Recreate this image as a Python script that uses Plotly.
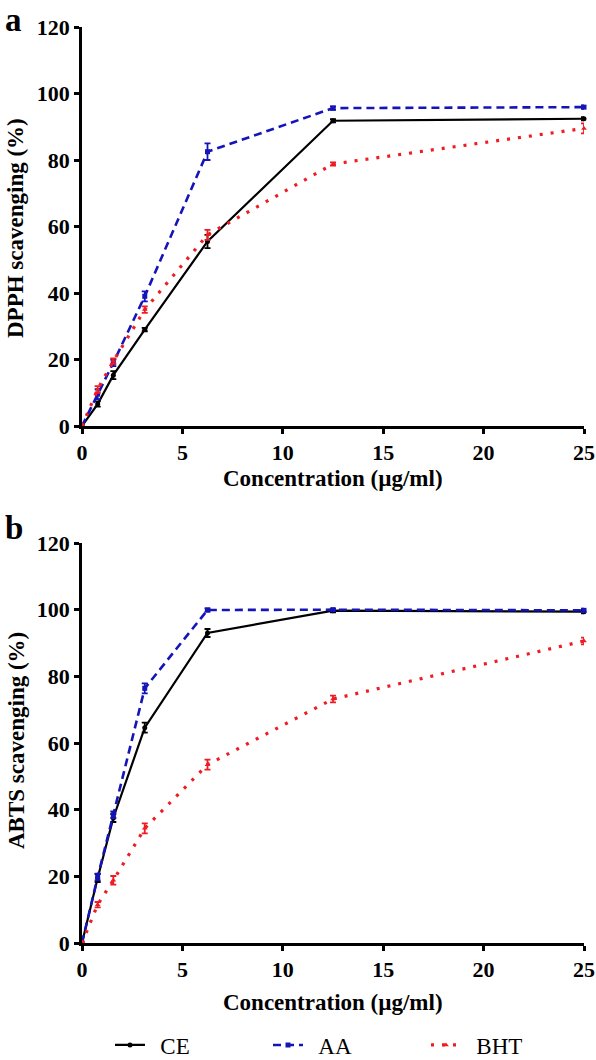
import plotly.graph_objects as go

conc = [0, 0.78, 1.56, 3.125, 6.25, 12.5, 25]

# DPPH scavenging (%)
dpph_ce = [0, 6.6, 15.3, 29.0, 55.5, 91.8, 92.4]
dpph_ce_err = [0, 0.8, 1.2, 0.5, 2.0, 0.5, 0.5]
dpph_aa = [0, 9.6, 19.0, 39.0, 82.5, 95.6, 95.9]
dpph_aa_err = [0, 1.5, 1.0, 1.5, 2.5, 0.5, 0.5]
dpph_bht = [0, 11.0, 19.5, 35.0, 57.5, 78.8, 89.5]
dpph_bht_err = [0, 1.0, 0.8, 1.0, 1.5, 0.5, 1.5]

# ABTS scavenging (%)
abts_ce = [0, 19.5, 37.5, 64.6, 93.0, 99.7, 99.4]
abts_ce_err = [0, 1.2, 1.2, 1.5, 1.2, 0.5, 0.5]
abts_aa = [0, 19.8, 38.5, 76.4, 99.9, 100.0, 99.8]
abts_aa_err = [0, 1.0, 1.0, 1.5, 0.5, 0.3, 0.5]
abts_bht = [0, 11.5, 18.8, 34.4, 53.5, 73.2, 90.6]
abts_bht_err = [0, 0.8, 1.3, 1.5, 1.5, 1.0, 1.0]

series_names = ["CE", "AA", "BHT"]
x_ticks = [0, 5, 10, 15, 20, 25]
y_ticks = [0, 20, 40, 60, 80, 100, 120]

FONT = "Liberation Serif"
BLACK = "#000000"
BLUE = "#1414b8"
RED = "#ee1c24"

styles = {
    "CE": dict(line=dict(color=BLACK, width=2.2), marker=dict(symbol="circle", size=5, color=BLACK)),
    "AA": dict(line=dict(color=BLUE, width=2.6, dash="8px,5px"), marker=dict(symbol="square", size=5, color=BLUE)),
    "BHT": dict(line=dict(color=RED, width=3.2, dash="3px,8px"), marker=dict(symbol="triangle-up", size=5, color=RED)),
}

fig = go.Figure()

panels = [
    ("x", "y", [dpph_ce, dpph_aa, dpph_bht], [dpph_ce_err, dpph_aa_err, dpph_bht_err], True),
    ("x2", "y2", [abts_ce, abts_aa, abts_bht], [abts_ce_err, abts_aa_err, abts_bht_err], False),
]
for xa, ya, vals, errs, show in panels:
    for name, v, e in zip(series_names, vals, errs):
        st = styles[name]
        fig.add_trace(go.Scatter(
            x=conc, y=v, name="\u00a0\u2009" + name, mode="lines+markers",
            xaxis=xa, yaxis=ya, showlegend=show, cliponaxis=False,
            line=st["line"], marker=st["marker"],
            error_y=dict(type="data", array=e, visible=True, color=st["line"]["color"],
                         thickness=1.8, width=3),
        ))

xdom = [82 / 596, 584 / 596]
top_dom = [1 - 426 / 1060, 1 - 27 / 1060]
bot_dom = [1 - 943 / 1060, 1 - 543 / 1060]

axis_common = dict(
    showline=True, linecolor=BLACK, linewidth=2.5, showgrid=False, zeroline=False,
    ticks="outside", ticklen=5, tickwidth=2.5, tickcolor=BLACK, automargin=False,
    tickfont=dict(family=FONT, size=22, color=BLACK, weight="bold"),
)

fig.update_layout(
    width=596, height=1060,
    margin=dict(l=0, r=0, t=0, b=0, autoexpand=False),
    paper_bgcolor="white", plot_bgcolor="white",
    xaxis=dict(domain=xdom, range=[0, 25], tickvals=x_ticks, anchor="y", **axis_common),
    yaxis=dict(domain=top_dom, range=[0, 120], tickvals=y_ticks, anchor="x", **axis_common),
    xaxis2=dict(domain=xdom, range=[0, 25], tickvals=x_ticks, anchor="y2", **axis_common),
    yaxis2=dict(domain=bot_dom, range=[0, 120], tickvals=y_ticks, anchor="x2", **axis_common),
    legend=dict(orientation="h", x=110 / 596, xanchor="left", y=1 - 1045 / 1060, yanchor="middle",
                font=dict(family=FONT, size=23, color=BLACK), entrywidth=113, entrywidthmode="pixels",
                bgcolor="rgba(0,0,0,0)"),
    showlegend=True,
)

ann = []
ann.append(dict(text="a", x=3 / 596, y=1, xref="paper", yref="paper", xanchor="left", yanchor="top",
                showarrow=False, font=dict(family=FONT, size=33, color=BLACK, weight="bold")))
ann.append(dict(text="b", x=3 / 596, y=1 - 508 / 1060, xref="paper", yref="paper", xanchor="left", yanchor="top",
                showarrow=False, font=dict(family=FONT, size=33, color=BLACK, weight="bold")))
title_font = dict(family=FONT, size=23, color=BLACK, weight="bold")
ann.append(dict(text="Concentration (µg/ml)", x=333 / 596, y=1 - 478 / 1060, xref="paper", yref="paper",
                xanchor="center", yanchor="middle", showarrow=False, font=title_font))
ann.append(dict(text="Concentration (µg/ml)", x=333 / 596, y=1 - 1002 / 1060, xref="paper", yref="paper",
                xanchor="center", yanchor="middle", showarrow=False, font=title_font))
ann.append(dict(text="DPPH scavenging (%)", x=16 / 596, y=1 - 228 / 1060, xref="paper", yref="paper",
                xanchor="center", yanchor="middle", textangle=-90, showarrow=False, font=title_font))
ann.append(dict(text="ABTS scavenging (%)", x=16 / 596, y=1 - 741 / 1060, xref="paper", yref="paper",
                xanchor="center", yanchor="middle", textangle=-90, showarrow=False, font=title_font))
fig.update_layout(annotations=ann)

fig.write_html("out.html", config={"displayModeBar": False},
               post_script="document.body.style.margin='0';document.body.style.overflow='hidden';")
